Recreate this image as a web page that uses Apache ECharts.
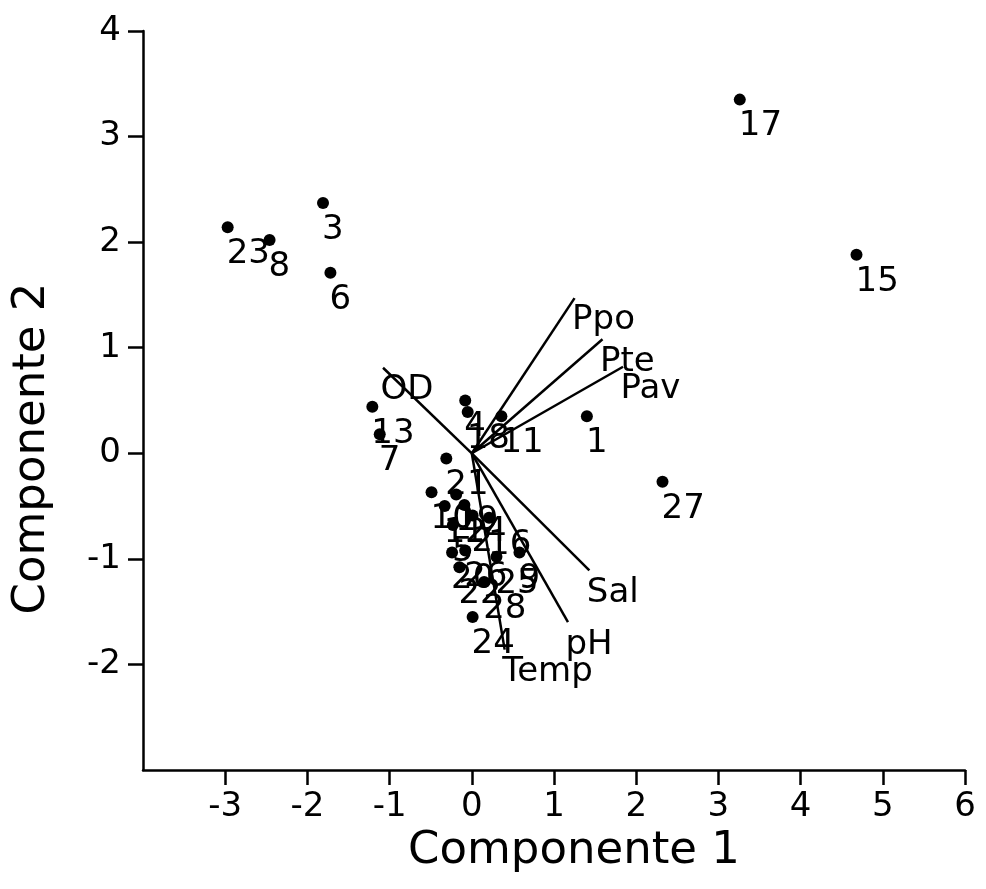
<!DOCTYPE html>
<html><head><meta charset="utf-8">
<script src="https://cdn.jsdelivr.net/npm/echarts@6/dist/echarts.min.js"></script>
<style>html,body{margin:0;padding:0;background:#fff}#c{width:986px;height:889px}</style>
</head><body><div id="c"></div>
<script>
const pointNames = ['1','3','4','6','7','8','11','13','15','17','18','21','23','27','10','19','12','14','2','5','16','9','25','22','28','24','20','26'];
const pointX = [1.40,-1.81,-0.08,-1.72,-1.12,-2.46,0.36,-1.21,4.68,3.26,-0.05,-0.31,-2.97,2.32,-0.49,-0.19,-0.33,-0.09,0.01,-0.23,0.21,0.58,0.30,-0.15,0.15,0.01,-0.24,-0.08];
const pointY = [0.35,2.37,0.50,1.71,0.18,2.02,0.35,0.44,1.88,3.35,0.39,-0.05,2.14,-0.27,-0.37,-0.39,-0.50,-0.49,-0.59,-0.68,-0.61,-0.94,-0.98,-1.08,-1.22,-1.55,-0.94,-0.92];
const varNames = ['Ppo','Pte','Pav','OD','Sal','pH','Temp'];
const varX = [1.25,1.59,1.84,-1.08,1.43,1.17,0.40];
const varY = [1.47,1.08,0.82,0.81,-1.11,-1.60,-1.86];
const xTicks = [-3,-2,-1,0,1,2,3,4,5,6];
const yTicks = [-2,-1,0,1,2,3,4];

const FONT = 'DejaVu Sans';
const chart = echarts.init(document.getElementById('c'));
const pts = pointNames.map((n,i)=>({name:n,value:[pointX[i],pointY[i]]}));
const vlab = varNames.map((n,i)=>({name:n,value:[varX[i],varY[i]]}));
const vlines = varNames.map((n,i)=>({coords:[[0,0],[varX[i],varY[i]]]}));
chart.setOption({
  animation:false,
  grid:{left:143,right:21,top:31,bottom:119},
  xAxis:{type:'value',min:-4,max:6,interval:1,
    name:'Componente 1',nameLocation:'middle',nameGap:50,
    nameTextStyle:{fontFamily:FONT,fontSize:45,color:'#000',verticalAlign:'top',padding:[0,0,0,40]},
    axisLine:{onZero:false,lineStyle:{color:'#000',width:2.5}},
    axisTick:{show:true,length:15,lineStyle:{color:'#000',width:2.5},customValues:xTicks},
    axisLabel:{fontFamily:FONT,fontSize:34,color:'#000',margin:20,customValues:xTicks},
    splitLine:{show:false}},
  yAxis:{type:'value',min:-3,max:4,interval:1,
    name:'Componente 2',nameLocation:'middle',nameGap:88,nameRotate:90,
    nameTextStyle:{fontFamily:FONT,fontSize:45,color:'#000',padding:[0,96,0,0]},
    axisLine:{onZero:false,lineStyle:{color:'#000',width:2.5}},
    axisTick:{show:true,length:15,lineStyle:{color:'#000',width:2.5},customValues:yTicks},
    axisLabel:{fontFamily:FONT,fontSize:34,color:'#000',margin:22,customValues:yTicks},
    splitLine:{show:false}},
  series:[
    {type:'lines',coordinateSystem:'cartesian2d',data:vlines,symbol:'none',
     lineStyle:{color:'#000',width:2.5,opacity:1},z:3},
    {type:'scatter',data:pts,symbol:'circle',symbolSize:12,itemStyle:{color:'#000',opacity:1},z:4,
     label:{show:true,formatter:'{b}',position:[5,16],fontFamily:FONT,fontSize:34,color:'#000',textBorderWidth:0}},
    {type:'scatter',data:vlab,symbolSize:1,itemStyle:{color:'rgba(0,0,0,0)',opacity:1},z:4,
     label:{show:true,formatter:'{b}',position:[-2,6],fontFamily:FONT,fontSize:34,color:'#000',opacity:1,textBorderWidth:0}}
  ]
});
</script></body></html>
